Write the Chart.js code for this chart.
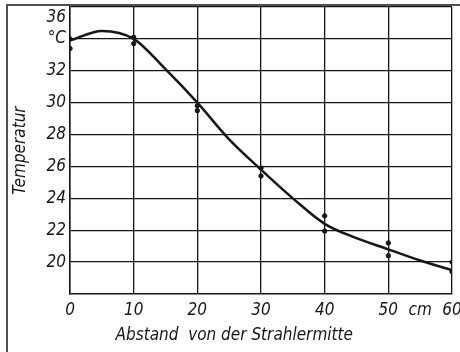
<!DOCTYPE html>
<html>
<head>
<meta charset="utf-8">
<script src="https://cdn.jsdelivr.net/npm/chart.js@4.4.1/dist/chart.umd.min.js"></script>
<style>
  html, body { margin: 0; padding: 0; background: #fff; overflow: hidden; }
  canvas { display: block; }
</style>
</head>
<body>
<canvas id="grafica" width="460" height="352"></canvas>
<script>
// Kurve (geglättet) und Messpunkte
const abstandKurve = [0, 5, 10, 15, 20, 25, 30, 35, 40, 45, 50, 55, 60];
const tempKurve = [33.9, 34.5, 34.0, 32.1, 30.0, 27.7, 25.8, 24.0, 22.4, 21.5, 20.8, 20.1, 19.5];

const abstandMess = [0, 0, 10, 10, 20, 20, 30, 30, 40, 40, 50, 50, 60, 60];
const tempMess = [34.0, 33.4, 34.1, 33.7, 29.8, 29.5, 25.9, 25.4, 22.9, 21.95, 21.2, 20.4, 20.0, 19.4];

const xTicks = [0, 10, 20, 30, 40, 50, 60];
const yTicks = [20, 22, 24, 26, 28, 30, 32, 34, 36];

const schwarz = '#161616';
const schrift = { family: '"Liberation Sans Narrow", "DejaVu Sans Condensed", sans-serif', style: 'italic', size: 17 };

const rahmen = {
    id: 'rahmen',
    afterDraw(chart) {
        const c = chart.ctx;
        c.save();
        c.strokeStyle = schwarz;
        c.lineWidth = 1.5;
        c.beginPath();
        c.moveTo(7, 352);
        c.lineTo(7, 5);
        c.lineTo(460, 5);
        c.stroke();
        c.restore();
    }
};

const ctx = document.getElementById('grafica').getContext('2d');
new Chart(ctx, {
    type: 'scatter',
    data: {
        datasets: [{
            type: 'line',
            data: abstandKurve.map((x, i) => ({ x: x, y: tempKurve[i] })),
            borderColor: schwarz,
            borderWidth: 2.5,
            cubicInterpolationMode: 'monotone',
            pointRadius: 0,
            fill: false
        }, {
            data: abstandMess.map((x, i) => ({ x: x, y: tempMess[i] })),
            backgroundColor: schwarz,
            borderColor: schwarz,
            pointRadius: 2.2
        }]
    },
    options: {
        responsive: false,
        animation: false,
        devicePixelRatio: 1,
        layout: { padding: { top: 7, right: 8, left: 0, bottom: 0 } },
        plugins: { legend: { display: false }, tooltip: { enabled: false } },
        scales: {
            x: {
                type: 'linear',
                min: 0, max: 60,
                afterBuildTicks: s => { s.ticks = xTicks.concat([55]).map(v => ({ value: v })); },
                afterFit: s => { s.height = 58; },
                grid: {
                    color: c => (c.tick && c.tick.value === 55) ? 'rgba(0,0,0,0)' : schwarz,
                    lineWidth: 1.3,
                    drawTicks: false
                },
                border: { color: schwarz, width: 1.5 },
                ticks: {
                    color: schwarz,
                    font: schrift,
                    padding: 6,
                    maxRotation: 0,
                    autoSkip: false,
                    callback: v => v === 55 ? 'cm' : String(v)
                },
                title: {
                    display: true,
                    text: 'Abstand  von der Strahlermitte\u2002\u2002\u2002\u2002\u2002\u2002\u2002',
                    color: schwarz,
                    font: schrift,
                    padding: { top: 0, bottom: 6 }
                }
            },
            y: {
                type: 'linear',
                min: 18, max: 36,
                afterBuildTicks: s => { s.ticks = yTicks.map(v => ({ value: v })); },
                afterFit: s => { s.width = 70; s.paddingTop = 0; s.paddingBottom = 0; },
                grid: { color: schwarz, lineWidth: 1.3, drawTicks: false },
                border: { color: schwarz, width: 1.5 },
                ticks: {
                    color: schwarz,
                    font: schrift,
                    padding: 4,
                    autoSkip: false,
                    callback: v => v === 34 ? '°C' : (v === 36 ? ['', '36'] : String(v))
                },
                title: {
                    display: true,
                    text: 'Temperatur',
                    color: schwarz,
                    font: schrift,
                    padding: { top: 10, bottom: 0 }
                }
            }
        }
    },
    plugins: [rahmen]
});
</script>
</body>
</html>
